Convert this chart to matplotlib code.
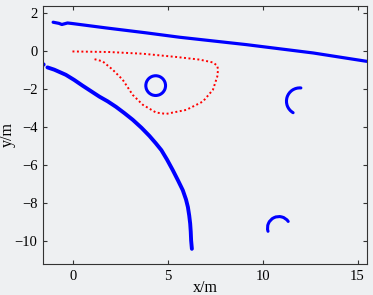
"""
Laser scan map: walls (blue), obstacles (blue arcs) and robot path (red).
"""

import matplotlib
matplotlib.use("Agg")
import matplotlib.pyplot as plt
from matplotlib.patches import Arc

plt.rcParams.update({
    "font.family": "serif",
    "font.serif": ["Liberation Serif", "DejaVu Serif"],
    "font.size": 10.5,
    "xtick.direction": "in",
    "ytick.direction": "in",
    "xtick.top": True,
    "ytick.right": True,
})

# ---------------------------------------------------------------------------
# Data (metres)
# ---------------------------------------------------------------------------

top_wall_x = [-1.06, -0.75, -0.6, -0.3, -0.04, 1.73, 3.85, 5.6, 9.13, 12.66, 15.48]
top_wall_y = [1.54, 1.48, 1.42, 1.5, 1.47, 1.24, 0.98, 0.75, 0.36, -0.08, -0.52]

curve_wall_x = [-1.36, -1.0, -0.39, 0.05, 0.49, 0.95, 1.38, 1.82, 2.26, 2.7, 3.14,
                3.6, 4.02, 4.35, 4.65, 4.95, 5.25, 5.53, 5.78, 5.95, 6.05, 6.12,
                6.17, 6.2, 6.22, 6.26]
curve_wall_y = [-0.84, -0.96, -1.23, -1.5, -1.8, -2.1, -2.38, -2.63, -2.92, -3.25,
                -3.6, -4.02, -4.45, -4.83, -5.2, -5.7, -6.25, -6.8, -7.31, -7.8,
                -8.2, -8.65, -9.07, -9.5, -9.96, -10.4]

stray_x = [-1.62]
stray_y = [-0.66]

# obstacles: centre x, centre y, radius, start angle, end angle (deg)
obst_cx = [4.35, 11.95, 10.85]
obst_cy = [-1.8, -2.62, -9.3]
obst_r = [0.52, 0.7, 0.6]
obst_t1 = [0, 85, 35]
obst_t2 = [360, 240, 197]

path_x = [-0.04, 1.9, 3.67, 5.43, 6.67, 7.37, 7.6, 7.64, 7.6, 7.37, 6.84, 5.96,
          4.9, 4.37, 3.67, 3.14, 2.61, 2.08, 1.55, 1.02]
path_y = [0.0, -0.03, -0.12, -0.29, -0.43, -0.58, -0.75, -0.96, -1.32, -2.02,
          -2.64, -3.08, -3.29, -3.22, -2.81, -2.29, -1.49, -0.96, -0.52, -0.38]

XLIM = (-1.6, 15.5)
YLIM = (-11.2, 2.4)
XTICKS = [0, 5, 10, 15]
YTICKS = [2, 0, -2, -4, -6, -8, -10]

BLUE = "#0000ff"
RED = "#ff0000"
BG = "#eef0f2"


def main() -> None:
    fig = plt.figure(figsize=(3.73, 2.95), dpi=100, facecolor=BG)
    ax = fig.add_axes([0.115, 0.105, 0.869, 0.875])
    ax.set_facecolor(BG)

    ax.plot(top_wall_x, top_wall_y, color=BLUE, lw=2.3, solid_capstyle="round")
    ax.plot(curve_wall_x, curve_wall_y, color=BLUE, lw=2.8, solid_capstyle="round")
    ax.plot(stray_x, stray_y, "o", color=BLUE, ms=2)
    for cx, cy, r, t1, t2 in zip(obst_cx, obst_cy, obst_r, obst_t1, obst_t2):
        ax.add_patch(Arc((cx, cy), 2 * r, 2 * r, theta1=t1, theta2=t2,
                         color=BLUE, lw=2.2, capstyle="round"))
    ax.plot(path_x, path_y, color=RED, lw=1.4, linestyle=(0, (1, 1.3)))

    ax.set_xlim(*XLIM)
    ax.set_ylim(*YLIM)
    ax.set_xticks(XTICKS)
    ax.set_yticks(YTICKS)
    ax.tick_params(length=3, width=0.8, color="#333333", pad=4)
    for spine in ax.spines.values():
        spine.set_color("#333333")
        spine.set_linewidth(0.8)

    ax.set_xlabel("x/m", fontsize=11.5, labelpad=-2)
    ax.set_ylabel("y/m", fontsize=11.5, labelpad=-1)

    fig.savefig("out.png", dpi=100, facecolor=BG)
    plt.close(fig)


if __name__ == "__main__":
    main()
